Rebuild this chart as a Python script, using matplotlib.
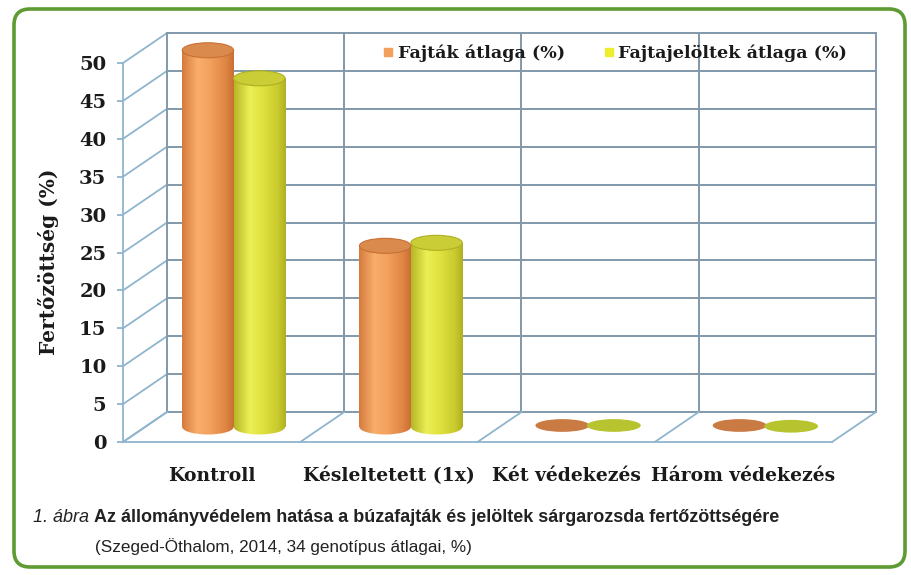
import numpy as np
import matplotlib
matplotlib.use('Agg')
import matplotlib.pyplot as plt
from matplotlib.patches import Ellipse, FancyBboxPatch
from matplotlib.lines import Line2D
from matplotlib.colors import LinearSegmentedColormap

# ---- data ----
categories = ['Kontroll', 'Késleltetett (1x)', 'Két védekezés', 'Három védekezés']
fajtak = [49.7, 23.9, 0.2, 0.2]
jeloltek = [46.0, 24.3, 0.2, 0.1]
series_names = ['Fajták átlaga (%)', 'Fajtajelöltek átlaga (%)']
yticks = [0, 5, 10, 15, 20, 25, 30, 35, 40, 45, 50]
ylabel = 'Fertőzöttség (%)'
caption_num = '1. ábra'
caption_title = 'Az állományvédelem hatása a búzafajták és jelöltek sárgarozsda fertőzöttségére'
caption_sub = '(Szeged-Öthalom, 2014, 34 genotípus átlagai, %)'

# ---- styles ----
SERIF = 'DejaVu Serif'
NARROW = ['Liberation Sans Narrow', 'Liberation Sans', 'DejaVu Sans']
wall_col = '#8199AB'
diag_col = '#8FB5CE'
body_cols = [['#D47A3C', '#F9AE6C', '#F3A05D', '#DE8544', '#C96F33'],
             ['#B4B626', '#ECEE55', '#E0E23F', '#C8CA2E', '#AEB022']]
top_cols = ['#DB8A4D', '#CACD36']
flat_cols = ['#C97B43', '#B7C42F']

W, H = 911, 575
fig = plt.figure(figsize=(W / 100, H / 100), dpi=100)

bg = fig.add_axes([0, 0, 1, 1])
bg.set_xlim(0, W)
bg.set_ylim(H, 0)
bg.axis('off')
bg.add_patch(FancyBboxPatch((14, 9), 891, 558, boxstyle='round,pad=0,rounding_size=16',
                            fc='white', ec='#5E9B32', lw=2.6))

x0p, x1p, y0p, y50p = 123, 832, 442, 63
ax = fig.add_axes([x0p / W, 1 - y0p / H, (x1p - x0p) / W, (y0p - y50p) / H])
ax.set_xlim(-0.5, 3.5)
ax.set_ylim(0, 50)
ax.patch.set_alpha(0)
pxx = (x1p - x0p) / 4.0
pxy = (y0p - y50p) / 50.0
DX = 44 / pxx
DY = 30 / pxy
n = len(categories)

# back wall
for v in yticks:
    ax.plot([-0.5 + DX, n - 0.5 + DX], [v + DY, v + DY], color=wall_col, lw=1.4, clip_on=False, zorder=1)
    ax.plot([-0.5, -0.5 + DX], [v, v + DY], color=diag_col, lw=1.3, clip_on=False, zorder=1)
for i in range(n + 1):
    ax.plot([i - 0.5 + DX] * 2, [DY, yticks[-1] + DY], color=wall_col, lw=1.4, clip_on=False, zorder=1)
    ax.plot([i - 0.5, i - 0.5 + DX], [0, DY], color=diag_col, lw=1.3, clip_on=False, zorder=1)

for s in ['top', 'right']:
    ax.spines[s].set_visible(False)
for s in ['left', 'bottom']:
    ax.spines[s].set_color(diag_col)
    ax.spines[s].set_linewidth(1.3)

ax.set_yticks(yticks)
ax.set_yticklabels([str(v) for v in yticks], fontfamily=SERIF, fontweight='bold', fontsize=14, color='#1a1a1a')
ax.tick_params(axis='y', length=4, color=diag_col, width=1.3, pad=8)
ax.set_xticks(range(n))
ax.set_xticklabels(categories, fontfamily=SERIF, fontweight='bold', fontsize=13.5, color='#1a1a1a')
ax.tick_params(axis='x', length=0, pad=18)

# cylinders
w = 0.29
eh = 15 / pxy
grad = np.linspace(0, 1, 256).reshape(1, -1)
for si, vals in enumerate([fajtak, jeloltek]):
    cmap = LinearSegmentedColormap.from_list('c%d' % si, list(zip([0, 0.3, 0.55, 0.85, 1.0], body_cols[si])))
    off = -w / 2 if si == 0 else w / 2
    xs = [i + off + DX / 2 for i in range(n)]
    bars = ax.bar(xs, vals, width=w, bottom=DY / 2, color='none', edgecolor='none', zorder=3, clip_on=False)
    for xc, v, rect in zip(xs, vals, bars):
        ext = [xc - w / 2, xc + w / 2, DY / 2 - eh, DY / 2 + v]
        if v > 1:
            e_b = Ellipse((xc, DY / 2), w, eh, fc='none', ec='none', zorder=3, clip_on=False)
            ax.add_patch(e_b)
            for clip in (rect, e_b):
                im = ax.imshow(grad, extent=ext, aspect='auto', cmap=cmap, zorder=3, interpolation='bilinear')
                im.set_clip_path(clip)
            ax.add_patch(Ellipse((xc, DY / 2 + v), w, eh, fc=top_cols[si], ec=body_cols[si][4],
                                 lw=0.8, zorder=4, clip_on=False))
        else:
            ax.add_patch(Ellipse((xc, DY / 2 + v), w * 1.05, eh * 0.85, fc=flat_cols[si], ec='none',
                                 zorder=4, clip_on=False))
ax.set_xlim(-0.5, 3.5)
ax.set_ylim(0, 50)

# legend
handles = [Line2D([], [], ls='none', marker='s', ms=5.5, mfc=c, mec=c) for c in ['#F4A05C', '#EEEE30']]
leg = fig.legend(handles, series_names, loc='center left', bbox_to_anchor=(383 / W, 1 - 53 / H),
                 ncol=2, frameon=False, handlelength=0.6, handletextpad=0.25, columnspacing=2.2,
                 prop={'family': SERIF, 'weight': 'bold', 'size': 12.6}, borderaxespad=0, borderpad=0)
for t in leg.get_texts():
    t.set_color('#1a1a1a')

# y label
bg.text(49, 262, ylabel, rotation=90, ha='center', va='center', fontfamily=SERIF,
        fontweight='bold', fontsize=14.5, color='#1a1a1a')

# caption
t1 = bg.text(33, 517, caption_num + ' ', ha='left', va='center', fontfamily=NARROW,
             fontstyle='italic', fontsize=13, color='#222222')
fig.canvas.draw()
bb = t1.get_window_extent()
bg.text(bb.x1, 517, caption_title, ha='left', va='center', fontfamily=NARROW,
        fontweight='bold', fontsize=13, color='#222222')
bg.text(95, 547, caption_sub, ha='left', va='center', fontfamily=NARROW,
        fontsize=12.3, color='#222222')

fig.savefig('out.png', dpi=100)
